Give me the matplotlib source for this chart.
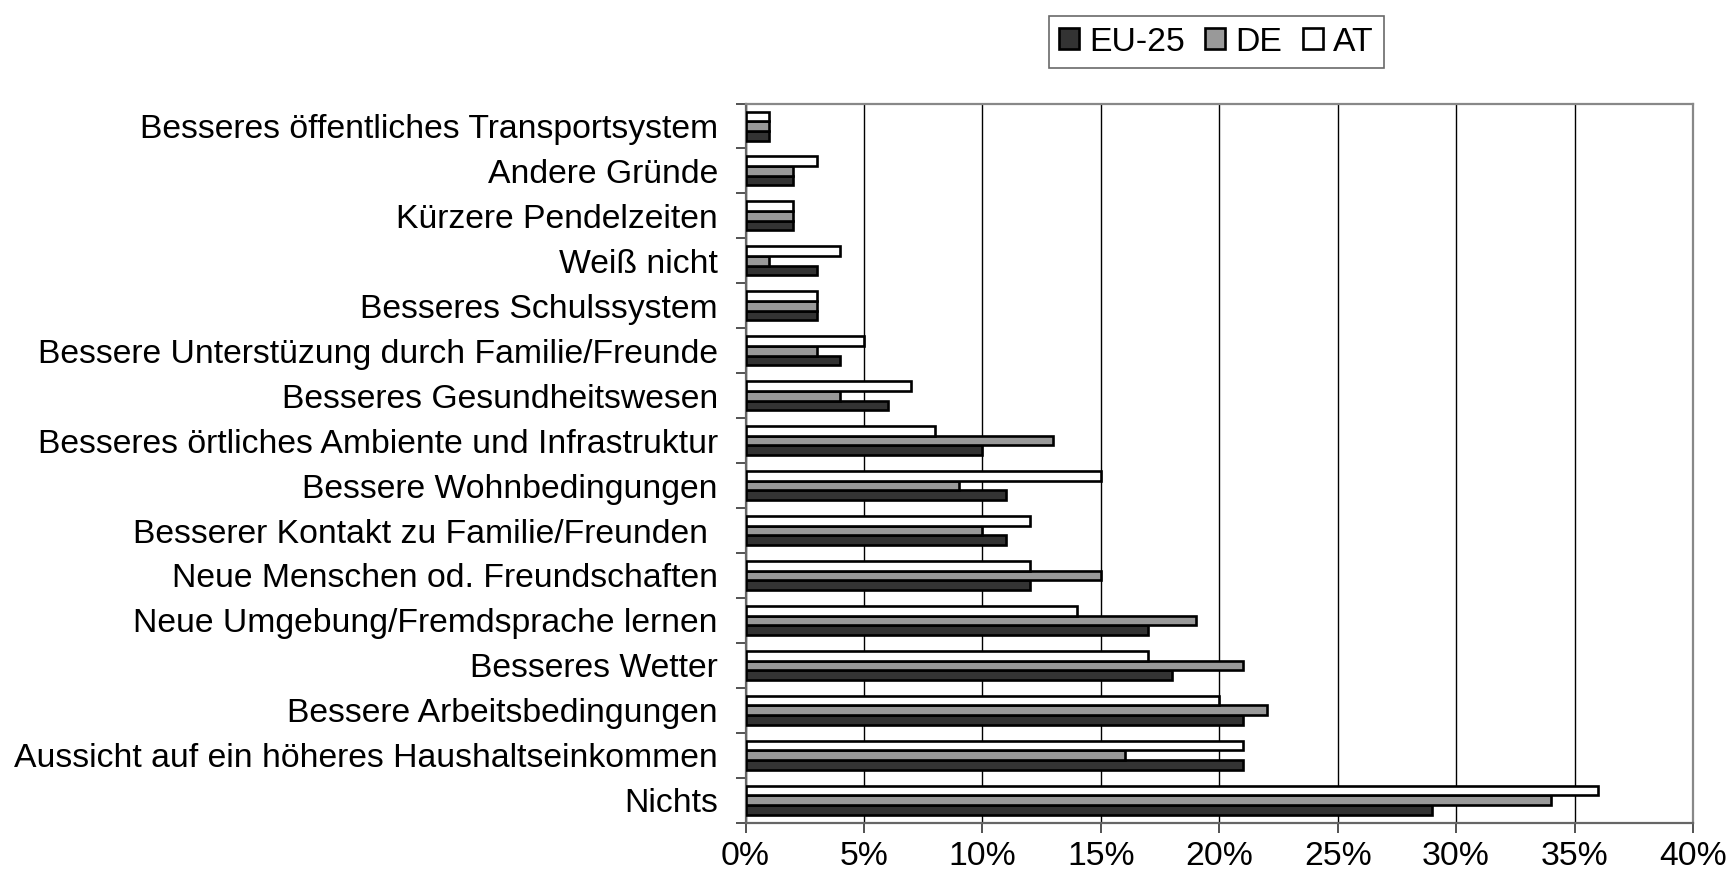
import matplotlib
matplotlib.use("Agg")
import matplotlib.pyplot as plt
import numpy as np
from matplotlib.ticker import FixedLocator, FuncFormatter

plt.rcParams['font.family'] = ['Liberation Sans', 'DejaVu Sans']

categories = [
    "Besseres öffentliches Transportsystem",
    "Andere Gründe",
    "Kürzere Pendelzeiten",
    "Weiß nicht",
    "Besseres Schulssystem",
    "Bessere Unterstüzung durch Familie/Freunde",
    "Besseres Gesundheitswesen",
    "Besseres örtliches Ambiente und Infrastruktur",
    "Bessere Wohnbedingungen",
    "Besserer Kontakt zu Familie/Freunden ",
    "Neue Menschen od. Freundschaften",
    "Neue Umgebung/Fremdsprache lernen",
    "Besseres Wetter",
    "Bessere Arbeitsbedingungen",
    "Aussicht auf ein höheres Haushaltseinkommen",
    "Nichts",
]
eu25 = [1, 2, 2, 3, 3, 4, 6, 10, 11, 11, 12, 17, 18, 21, 21, 29]
de = [1, 2, 2, 1, 3, 3, 4, 13, 9, 10, 15, 19, 21, 22, 16, 34]
at = [1, 3, 2, 4, 3, 5, 7, 8, 15, 12, 12, 14, 17, 20, 21, 36]
series_names = ["EU-25", "DE", "AT"]
xticks = [0, 5, 10, 15, 20, 25, 30, 35, 40]

fig = plt.figure(figsize=(17.27, 8.85), dpi=100)
ax = fig.add_axes([0.4317, 0.0704, 0.5486, 0.8126])

n = len(categories)
pos = np.arange(n)[::-1].astype(float)
h = 0.215
colors = ["#333333", "#999999", "#ffffff"]
for i, (vals, name, c) in enumerate(zip([eu25, de, at], series_names, colors)):
    ax.barh(pos + (i - 1) * h, vals, height=h, color=c, edgecolor="black",
            linewidth=1.9, label=name, zorder=3)

ax.set_xlim(0, 40)
ax.set_ylim(-0.5, n - 0.5)
ax.xaxis.set_major_locator(FixedLocator(xticks))
ax.xaxis.set_major_formatter(FuncFormatter(lambda v, p: f"{int(v)}%"))
ax.set_yticks(pos)
ax.set_yticklabels(categories)
ax.yaxis.set_minor_locator(FixedLocator(np.arange(n + 1) - 0.5))
ax.tick_params(axis='y', which='major', length=0, pad=20, labelsize=24.3)
ax.tick_params(axis='y', which='minor', length=7, width=1.3, color='#444444')
ax.tick_params(axis='x', which='major', length=7, width=1.3, color='#444444',
               pad=6, labelsize=24.3)
ax.grid(axis='x', color='black', linewidth=1.0, zorder=0)
ax.set_axisbelow(True)
for s in ['top', 'right']:
    ax.spines[s].set_color('#888888')
    ax.spines[s].set_linewidth(1.6)
for s in ['left', 'bottom']:
    ax.spines[s].set_color('#666666')
    ax.spines[s].set_linewidth(1.6)

leg = fig.legend(loc='center', bbox_to_anchor=(0.7042, 0.9525), ncol=3,
                 fontsize=24.3, frameon=True, fancybox=False, edgecolor='#444444',
                 handlelength=0.6, handleheight=0.6, handletextpad=0.3,
                 columnspacing=0.6, borderpad=0.3)
leg.get_frame().set_linewidth(1.2)

fig.savefig("out.png", dpi=100, facecolor="white")
